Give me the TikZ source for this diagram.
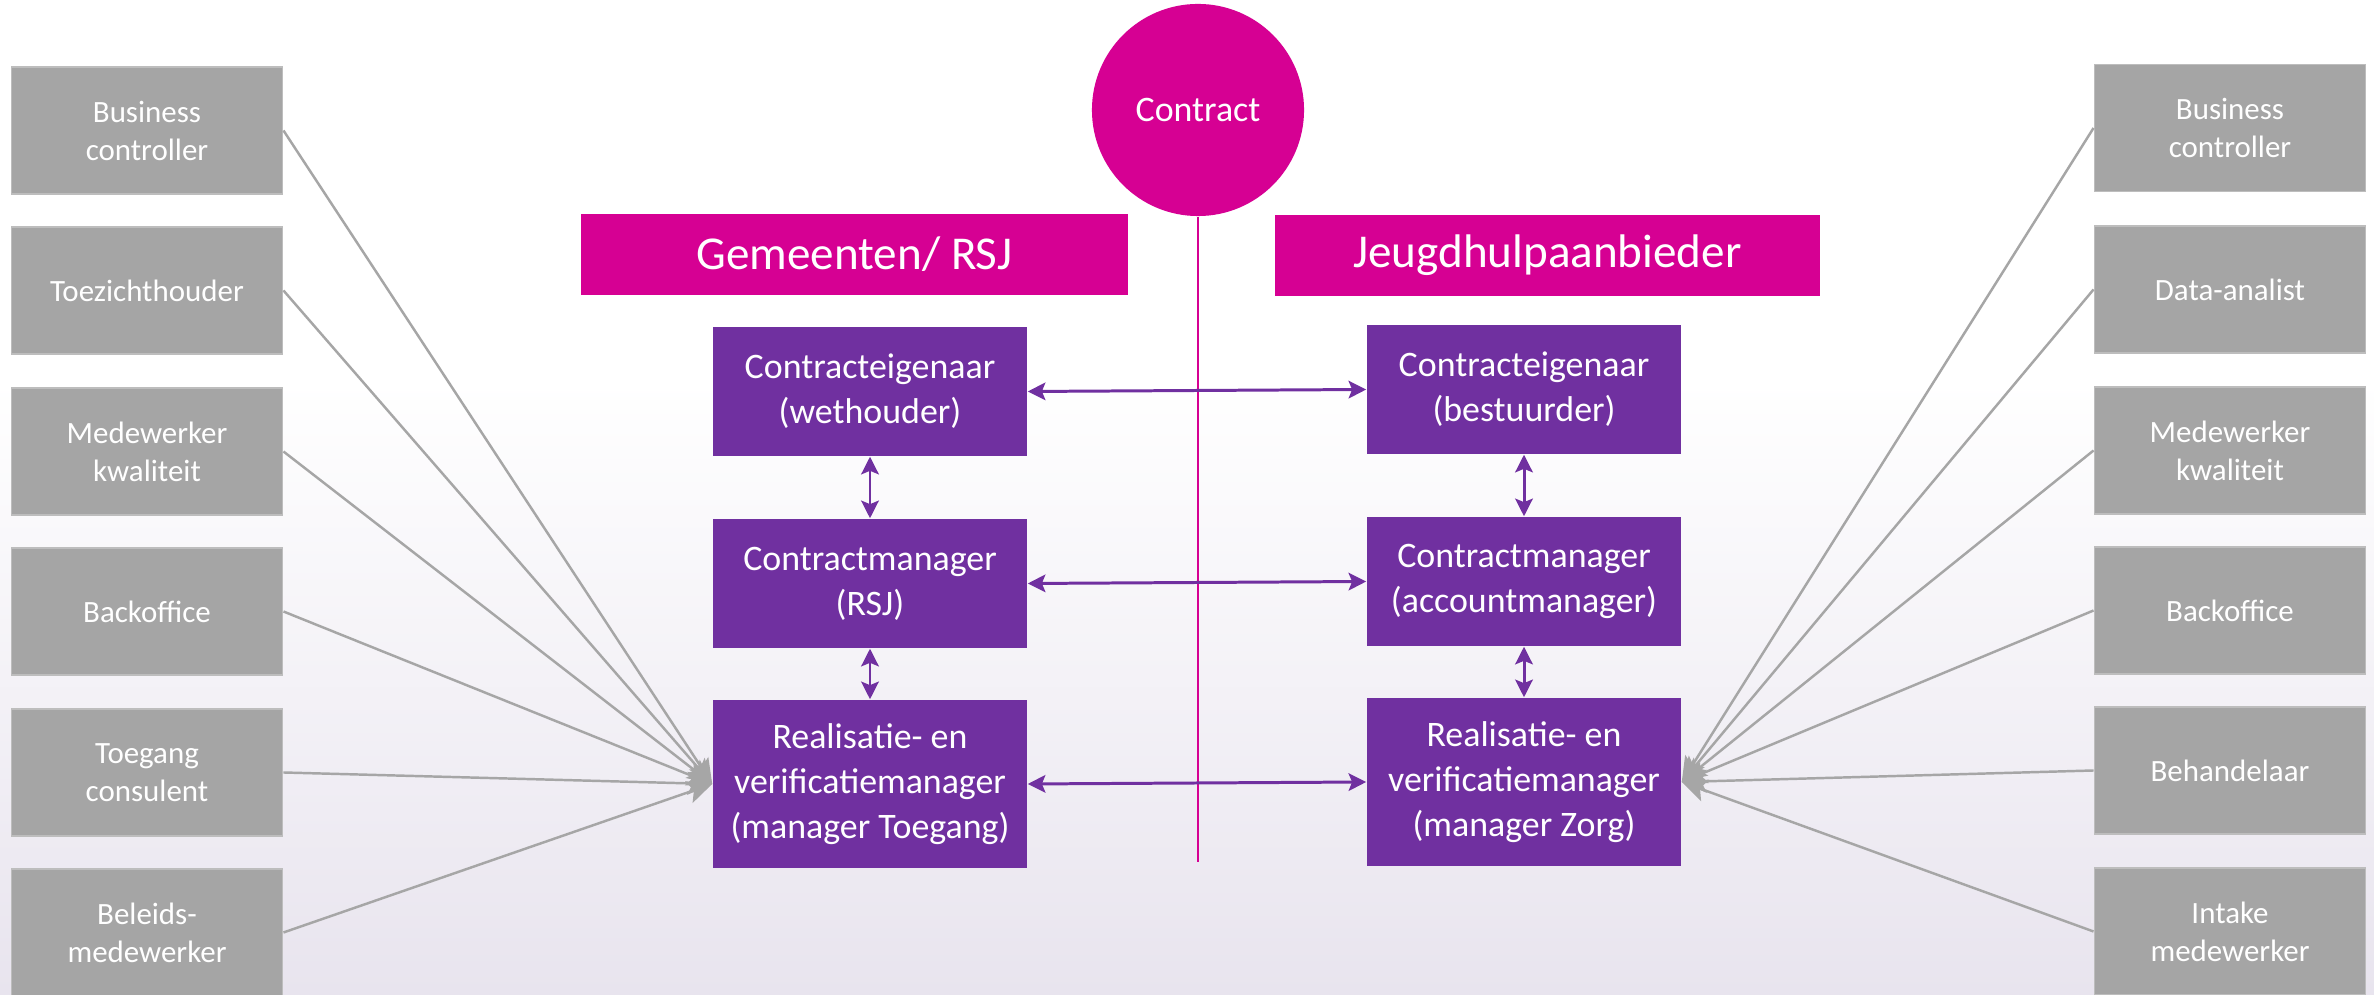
\documentclass[tikz,border=0pt]{standalone}
\usepackage{fontspec}
\setmainfont{Carlito}
\usetikzlibrary{arrows.meta}
\definecolor{pinkc}{HTML}{D60093}
\definecolor{purplec}{HTML}{7030A0}
\definecolor{grayc}{HTML}{A5A5A5}
\definecolor{grayb}{HTML}{BDBDBD}
\definecolor{bgc}{HTML}{E8E4EE}
\definecolor{linec}{HTML}{A6A6A6}
\begin{document}
\begin{tikzpicture}[x=0.01cm,y=-0.01cm,
  graybox/.style={draw=grayb,line width=0.5pt,fill=grayc,text=white,minimum width=2.71cm,minimum height=1.27cm,align=center,inner sep=0pt,font=\fontsize{8.8}{10.8}\selectfont},
  purplebox/.style={fill=purplec,text=white,minimum width=3.14cm,align=center,inner sep=0pt,font=\fontsize{10.2}{12.8}\selectfont},
  headbox/.style={fill=pinkc,text=white,minimum height=0.81cm,inner sep=0pt,font=\fontsize{13.4}{16}\selectfont},
  parr/.style={draw=purplec,line width=0.85pt,{Stealth[length=5pt,width=5pt,inset=1pt]}-{Stealth[length=5pt,width=5pt,inset=1pt]}},
  garr/.style={draw=linec,line width=0.7pt,-{Stealth[length=7pt,width=6.5pt,inset=1.5pt]}}
]
\useasboundingbox (0,0) rectangle (2374,995);
\fill[white] (0,0) rectangle (2374,380);
\shade[top color=white,bottom color=bgc] (0,379) rectangle (2374,995);

% left gray boxes
\node[graybox] (lg1) at (147,130.5) {Business\\controller};
\node[graybox] (lg2) at (147,290.5) {Toezichthouder};
\node[graybox] (lg3) at (147,451.5) {Medewerker\\kwaliteit};
\node[graybox] (lg4) at (147,611.5) {Backoffice};
\node[graybox] (lg5) at (147,772.5) {Toegang\\consulent};
\node[graybox] (lg6) at (147,932.5) {Beleids-\\medewerker};
% right gray boxes
\node[graybox] (rg1) at (2230,128) {Business\\controller};
\node[graybox] (rg2) at (2230,289.5) {Data-analist};
\node[graybox] (rg3) at (2230,450.5) {Medewerker\\kwaliteit};
\node[graybox] (rg4) at (2230,610.5) {Backoffice};
\node[graybox] (rg5) at (2230,770.5) {Behandelaar};
\node[graybox] (rg6) at (2230,931.5) {Intake\\medewerker};

% contract circle and line
\node[circle,fill=pinkc,text=white,minimum size=2.12cm,inner sep=0pt,font=\fontsize{10.2}{12}\selectfont] (contract) at (1198,110) {Contract};
\coordinate (lineend) at (1198,862);
\draw[pinkc,line width=0.45pt] (contract.south) -- (lineend);

% headers
\node[headbox,minimum width=5.47cm] (hl) at (854.5,254.5) {Gemeenten/ RSJ};
\node[headbox,minimum width=5.45cm] (hr) at (1547.5,255.5) {Jeugdhulpaanbieder};

% purple boxes
\node[purplebox,minimum height=1.29cm] (l1) at (870,391.5) {Contracteigenaar\\(wethouder)};
\node[purplebox,minimum height=1.29cm] (l2) at (870,583.5) {Contractmanager\\(RSJ)};
\node[purplebox,minimum height=1.68cm] (l3) at (870,784) {Realisatie- en\\verificatiemanager\\(manager Toegang)};
\node[purplebox,minimum height=1.29cm] (r1) at (1524,389.5) {Contracteigenaar\\(bestuurder)};
\node[purplebox,minimum height=1.29cm] (r2) at (1524,581.5) {Contractmanager\\(accountmanager)};
\node[purplebox,minimum height=1.68cm] (r3) at (1524,782) {Realisatie- en\\verificatiemanager\\(manager Zorg)};

% purple arrows
\draw[parr] (l1.east) -- (r1.west);
\draw[parr] (l2.east) -- (r2.west);
\draw[parr] (l3.east) -- (r3.west);
\draw[parr] (l1.south) -- (l2.north);
\draw[parr] (l2.south) -- (l3.north);
\draw[parr] (r1.south) -- (r2.north);
\draw[parr] (r2.south) -- (r3.north);

% gray connectors
\foreach \i in {1,...,6}{
  \draw[garr] (lg\i.east) -- (l3.west);
  \draw[garr] (rg\i.west) -- (r3.east);
}
\end{tikzpicture}
\end{document}
